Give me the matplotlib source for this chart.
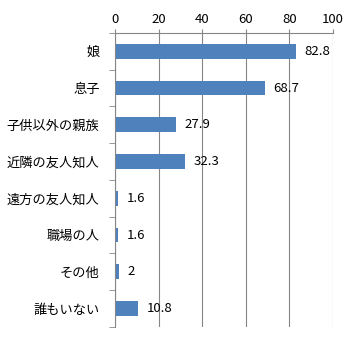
import numpy as np
import matplotlib.pyplot as plt

plt.rcParams['font.family'] = ['Noto Sans CJK JP', 'DejaVu Sans']

categories = ["娘", "息子", "子供以外の親族", "近隣の友人知人",
              "遠方の友人知人", "職場の人", "その他", "誰もいない"]
values = [82.8, 68.7, 27.9, 32.3, 1.6, 1.6, 2, 10.8]
value_labels = ["82.8", "68.7", "27.9", "32.3", "1.6", "1.6", "2", "10.8"]

BAR = "#4F81BD"
GRID = "#868686"

fig = plt.figure(figsize=(3.59, 3.43), dpi=100)
ax = fig.add_axes([0.320, 0.047, 0.608, 0.857])

y = np.arange(len(categories))
ax.barh(y, values, height=0.4, color=BAR, zorder=2)

ax.set_xlim(0, 100)
ax.set_ylim(len(categories) - 0.5, -0.5)
ax.set_xticks(np.arange(0, 101, 20))
ax.xaxis.tick_top()
ax.tick_params(axis="x", length=3, color=GRID, labelsize=9.5, pad=2)
ax.grid(axis="x", color=GRID, linewidth=0.8, zorder=1)

# category labels, with tick marks at the category boundaries
ax.set_yticks(y)
ax.set_yticklabels(categories, fontsize=9.5)
ax.tick_params(axis="y", length=0, pad=11)
ax.set_yticks(np.arange(-0.5, len(categories)), minor=True)
ax.tick_params(axis="y", which="minor", length=4, color=GRID)

for side in ("right", "bottom"):
    ax.spines[side].set_visible(False)
for side in ("left", "top"):
    ax.spines[side].set_color(GRID)
    ax.spines[side].set_linewidth(0.8)

for yi, v, lab in zip(y, values, value_labels):
    ax.annotate(lab, (v, yi), xytext=(6, 0), textcoords="offset points",
                va="center", ha="left", fontsize=9.5, zorder=3)

fig.savefig("out.png", dpi=100)
